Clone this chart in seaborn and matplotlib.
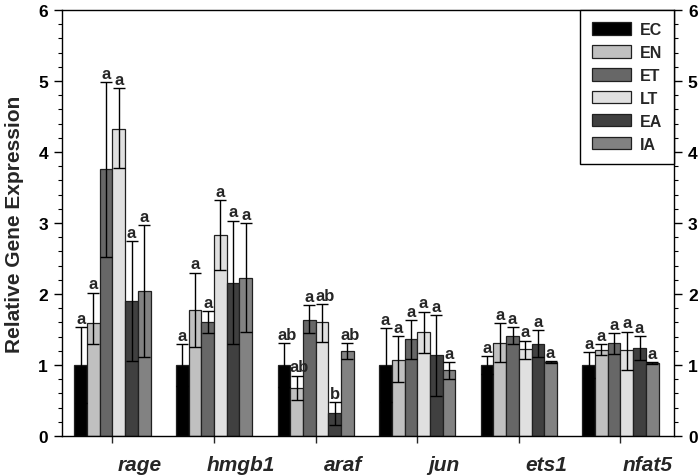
import numpy as np
import pandas as pd
import matplotlib
matplotlib.use("Agg")
import matplotlib.pyplot as plt
import matplotlib.transforms as mtransforms
from matplotlib.ticker import MultipleLocator, AutoMinorLocator
import seaborn as sns

genes = ["rage", "hmgb1", "araf", "jun", "ets1", "nfat5"]
groups = ["EC", "EN", "ET", "LT", "EA", "IA"]

EC = [1.00, 1.00, 1.00, 1.00, 1.00, 1.00]
EN = [1.59, 1.77, 0.68, 1.07, 1.31, 1.21]
ET = [3.76, 1.61, 1.64, 1.36, 1.41, 1.31]
LT = [4.33, 2.83, 1.60, 1.46, 1.22, 1.21]
EA = [1.90, 2.15, 0.32, 1.14, 1.30, 1.24]
IA = [2.04, 2.23, 1.20, 0.93, 1.04, 1.03]

EC_up = [0.53, 0.29, 0.31, 0.52, 0.12, 0.18]
EN_up = [0.43, 0.53, 0.17, 0.34, 0.28, 0.08]
ET_up = [1.22, 0.15, 0.20, 0.27, 0.12, 0.14]
LT_up = [0.57, 0.49, 0.26, 0.29, 0.12, 0.26]
EA_up = [0.84, 0.88, 0.16, 0.56, 0.19, 0.17]
IA_up = [0.93, 0.77, 0.11, 0.11, 0.01, 0.01]

EC_dn = [0.53, 0.29, 0.31, 0.52, 0.12, 0.18]
EN_dn = [0.29, 0.52, 0.17, 0.31, 0.27, 0.07]
ET_dn = [1.24, 0.16, 0.19, 0.28, 0.12, 0.15]
LT_dn = [0.55, 0.49, 0.27, 0.29, 0.13, 0.28]
EA_dn = [0.85, 0.85, 0.17, 0.57, 0.19, 0.17]
IA_dn = [0.93, 0.77, 0.12, 0.13, 0.01, 0.01]

letters_EC = ["a", "a", "ab", "a", "a", "a"]
letters_EN = ["a", "a", "ab", "a", "a", "a"]
letters_ET = ["a", "a", "a", "a", "a", "a"]
letters_LT = ["a", "a", "ab", "a", "a", "a"]
letters_EA = ["a", "a", "b", "a", "a", "a"]
letters_IA = ["a", "a", "ab", "a", "a", "a"]

colors = ["#000000", "#c0c0c0", "#676767", "#e0e0e0", "#404040", "#828282"]

means = [EC, EN, ET, LT, EA, IA]
ups = [EC_up, EN_up, ET_up, LT_up, EA_up, IA_up]
dns = [EC_dn, EN_dn, ET_dn, LT_dn, EA_dn, IA_dn]
letters = [letters_EC, letters_EN, letters_ET, letters_LT, letters_EA, letters_IA]

rows = []
for g, m in zip(groups, means):
    for gene, v in zip(genes, m):
        rows.append({"gene": gene, "group": g, "value": v})
df = pd.DataFrame(rows)

sns.set_style("ticks")
plt.rcParams["font.family"] = ["Liberation Sans", "DejaVu Sans"]

fig = plt.figure(figsize=(6.98, 4.77), dpi=100)
ax = fig.add_axes([62 / 698, 1 - 437 / 477, (674 - 62) / 698, (437 - 11) / 477])

sns.barplot(data=df, x="gene", y="value", hue="group", order=genes,
            hue_order=groups, palette=colors, width=0.75, errorbar=None,
            edgecolor="#202020", linewidth=0.9, ax=ax, saturation=1)

# error bars & letters from bar geometry
bar_containers = list(ax.containers)
for gi, cont in enumerate(bar_containers):
    for bi, patch in enumerate(cont.patches):
        xc = patch.get_x() + patch.get_width() / 2
        m = means[gi][bi]
        up = ups[gi][bi]
        dn = dns[gi][bi]
        ax.errorbar(xc, m, yerr=[[dn], [up]], fmt="none", ecolor="black",
                    elinewidth=1.0, capsize=4.6, capthick=1.0, zorder=5)
        txt = letters[gi][bi]
        dx = 2.0 if len(txt) > 1 else 0.0
        ax.annotate(txt, (xc, m + up), xytext=(dx, 1.0),
                    textcoords="offset points", ha="center", va="bottom",
                    fontsize=12, fontweight="bold", zorder=6)

ax.set_xlim(-0.497, 5.527)
ax.set_ylim(0, 6)
ax.yaxis.set_major_locator(MultipleLocator(1))
ax.yaxis.set_minor_locator(AutoMinorLocator(5))
for s in ["top", "right", "left", "bottom"]:
    ax.spines[s].set_visible(True)
    ax.spines[s].set_linewidth(1.0)
    ax.spines[s].set_color("black")

ax.tick_params(axis="y", which="both", direction="out", left=True, right=True,
               labelleft=True, labelright=True, colors="black")
ax.tick_params(axis="y", which="major", length=6, width=1, labelsize=12.5, pad=4)
ax.tick_params(axis="y", which="minor", length=3, width=0.8)
ax.tick_params(axis="x", which="major", direction="out", length=5, width=1,
               labelsize=15, pad=9)
for lab in ax.get_yticklabels():
    lab.set_fontweight("bold")

ax.set_xlabel("")
ax.set_ylabel("Relative Gene Expression", fontsize=15, fontweight="bold", labelpad=10)

offset = mtransforms.ScaledTranslation(27 / 100, 0, fig.dpi_scale_trans)
for lab in ax.get_xticklabels():
    lab.set_fontweight("bold")
    lab.set_fontstyle("italic")
    lab.set_transform(lab.get_transform() + offset)

leg = ax.legend(loc="upper right", bbox_to_anchor=(1.0, 1.0), borderaxespad=0,
                fancybox=False, frameon=True, edgecolor="black", framealpha=1,
                prop={"weight": "bold", "size": 11.5}, handlelength=2.45,
                handleheight=0.8, labelspacing=0.5, handletextpad=0.55,
                borderpad=0.75)
leg.get_frame().set_linewidth(1.0)

fig.savefig("out.png", dpi=100)
